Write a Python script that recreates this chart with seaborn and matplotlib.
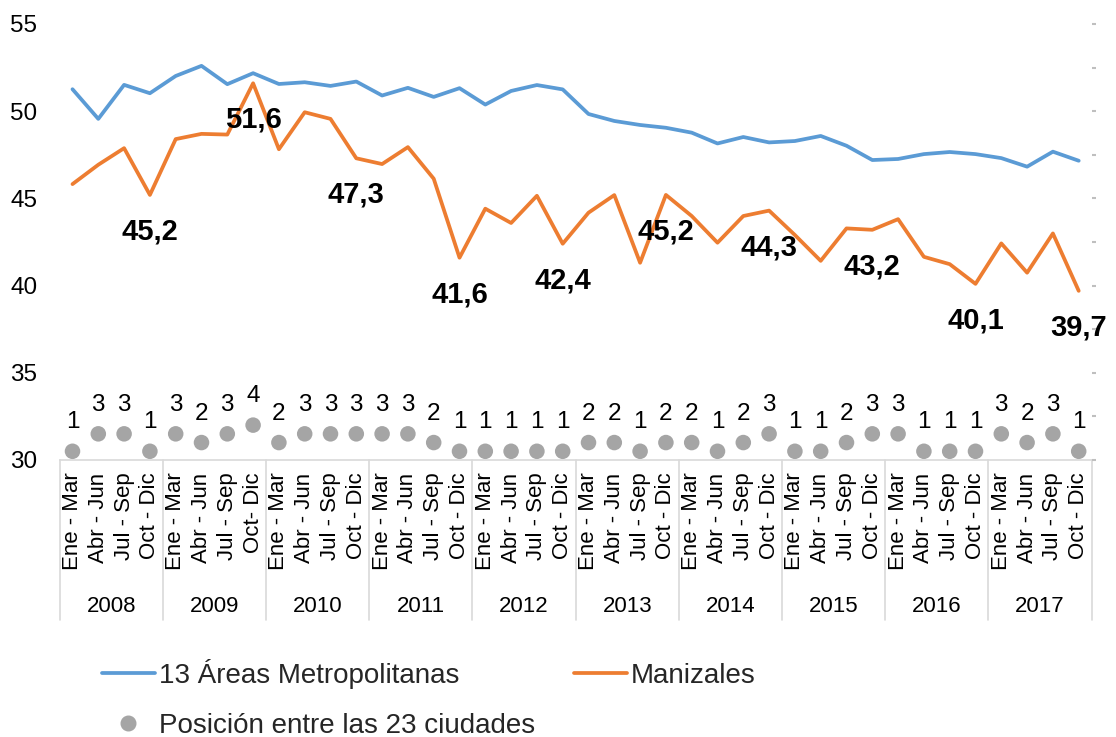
import numpy as np
import pandas as pd
import matplotlib
matplotlib.use("Agg")
import matplotlib.pyplot as plt
import matplotlib.transforms as mtransforms
from matplotlib.lines import Line2D
import seaborn as sns

# ---------------- data ----------------
years = ["2008", "2009", "2010", "2011", "2012", "2013", "2014", "2015", "2016", "2017"]
quarters = ["Ene - Mar", "Abr - Jun", "Jul - Sep", "Oct - Dic"]

areas13 = [51.26, 49.56, 51.51, 51.03, 52.02, 52.60, 51.55, 52.18,
           51.56, 51.66, 51.45, 51.70, 50.90, 51.34, 50.82, 51.32,
           50.38, 51.16, 51.50, 51.25, 49.84, 49.44, 49.21, 49.05,
           48.77, 48.15, 48.52, 48.21, 48.29, 48.58, 48.02, 47.20,
           47.26, 47.54, 47.66, 47.54, 47.31, 46.82, 47.68, 47.16]

manizales = [45.82, 46.93, 47.88, 45.2, 48.40, 48.70, 48.66, 51.6,
             47.82, 49.94, 49.56, 47.3, 46.97, 47.94, 46.13, 41.6,
             44.41, 43.59, 45.15, 42.4, 44.18, 45.19, 41.31, 45.2,
             43.99, 42.46, 43.99, 44.3, 42.90, 41.42, 43.28, 43.2,
             43.81, 41.65, 41.23, 40.1, 42.42, 40.74, 42.99, 39.7]

ranks = [1, 3, 3, 1, 3, 2, 3, 4, 2, 3, 3, 3, 3, 3, 2, 1, 1, 1, 1, 1,
         2, 2, 1, 2, 2, 1, 2, 3, 1, 1, 2, 3, 3, 1, 1, 1, 3, 2, 3, 1]

tick_labels = [q for _ in years for q in quarters]
tick_labels[7] = "Oct- Dic"

labeled_points = [3, 7, 11, 15, 19, 23, 27, 31, 35, 39]

series_names = ["13 Áreas Metropolitanas", "Manizales", "Posición entre las 23 ciudades"]

# ---------------- style ----------------
sns.set_theme(style="white")
plt.rcParams["font.family"] = ["Liberation Sans", "DejaVu Sans"]

BLUE = "#5B9BD5"
ORANGE = "#ED7D31"
GREY = "#A5A5A5"
LINEGREY = "#D9D9D9"

df = pd.DataFrame({
    "idx": np.arange(len(areas13)),
    "areas": areas13,
    "maniz": manizales,
    "rank": ranks,
})

W, H = 1116, 737
fig = plt.figure(figsize=(W / 100, H / 100), dpi=100)
ax = fig.add_axes([59.6 / W, (H - 460) / H, 1032 / W, 436 / H])
ax2 = ax.twinx()

sns.lineplot(data=df, x="idx", y="areas", ax=ax, color=BLUE, lw=2.7)
sns.lineplot(data=df, x="idx", y="maniz", ax=ax, color=ORANGE, lw=2.7)

ax.set_xlim(-0.5, 39.5)
ax.set_ylim(30, 55)
ax.set_yticks(range(30, 56, 5))
ax.set_xticks(df["idx"])
ax.set_xticklabels(tick_labels, rotation=90, fontsize=16, color="#000000")
ax.tick_params(axis="x", length=0, pad=9)
ax.tick_params(axis="y", length=0, pad=16, labelsize=17.5, labelcolor="#000000")
ax.set_xlabel("")
ax.set_ylabel("")
for s in ["left", "top", "right"]:
    ax.spines[s].set_visible(False)
ax.spines["bottom"].set_color(LINEGREY)
ax.spines["bottom"].set_linewidth(1.2)

# secondary axis for ranks
sns.scatterplot(data=df, x="idx", y="rank", ax=ax2, color=GREY, s=125,
                edgecolor="none", clip_on=False, zorder=5)
ax2.set_ylim(0, 50)
ax2.set_yticks(range(0, 51, 5))
ax2.tick_params(axis="y", length=3, width=1.5, color="#BFBFBF", labelright=False)
ax2.set_ylabel("")
for s in ax2.spines.values():
    s.set_visible(False)

for i, r in enumerate(ranks):
    ax2.annotate(str(r), (i, r), xytext=(0, 16.5), textcoords="offset points",
                 ha="center", va="baseline", fontsize=17.5, color="#000000")

for i in labeled_points:
    v = manizales[i]
    ax.annotate(f"{v:.1f}".replace(".", ","), (i, v), xytext=(0, -32),
                textcoords="offset points", ha="center", va="baseline",
                fontsize=21, fontweight="bold", color="#000000",
                annotation_clip=False)

# category boxes
trans = mtransforms.blended_transform_factory(ax.transData, ax.transAxes)
for b in np.arange(-0.5, 40, 4):
    ax.plot([b, b], [0, -0.367], transform=trans, color=LINEGREY, lw=1.2, clip_on=False)
for j, y in enumerate(years):
    ax.text(4 * j + 1.5, -0.337, y, transform=trans, ha="center", va="center",
            fontsize=16, color="#000000")

# legend
handles = [Line2D([], [], color=BLUE, lw=2.7),
           Line2D([], [], marker="o", ls="", color=GREY, markersize=10.5),
           Line2D([], [], color=ORANGE, lw=2.7)]
labels = [series_names[0], series_names[2], series_names[1]]
fig.legend(handles, labels, ncol=2, loc="upper left",
           bbox_to_anchor=(102 / W, (H - 659) / H), frameon=False, fontsize=20,
           handlelength=1.9, handletextpad=0.15, columnspacing=1.4,
           labelspacing=0.85, borderpad=0, borderaxespad=0)

fig.savefig("out.png", dpi=100)
